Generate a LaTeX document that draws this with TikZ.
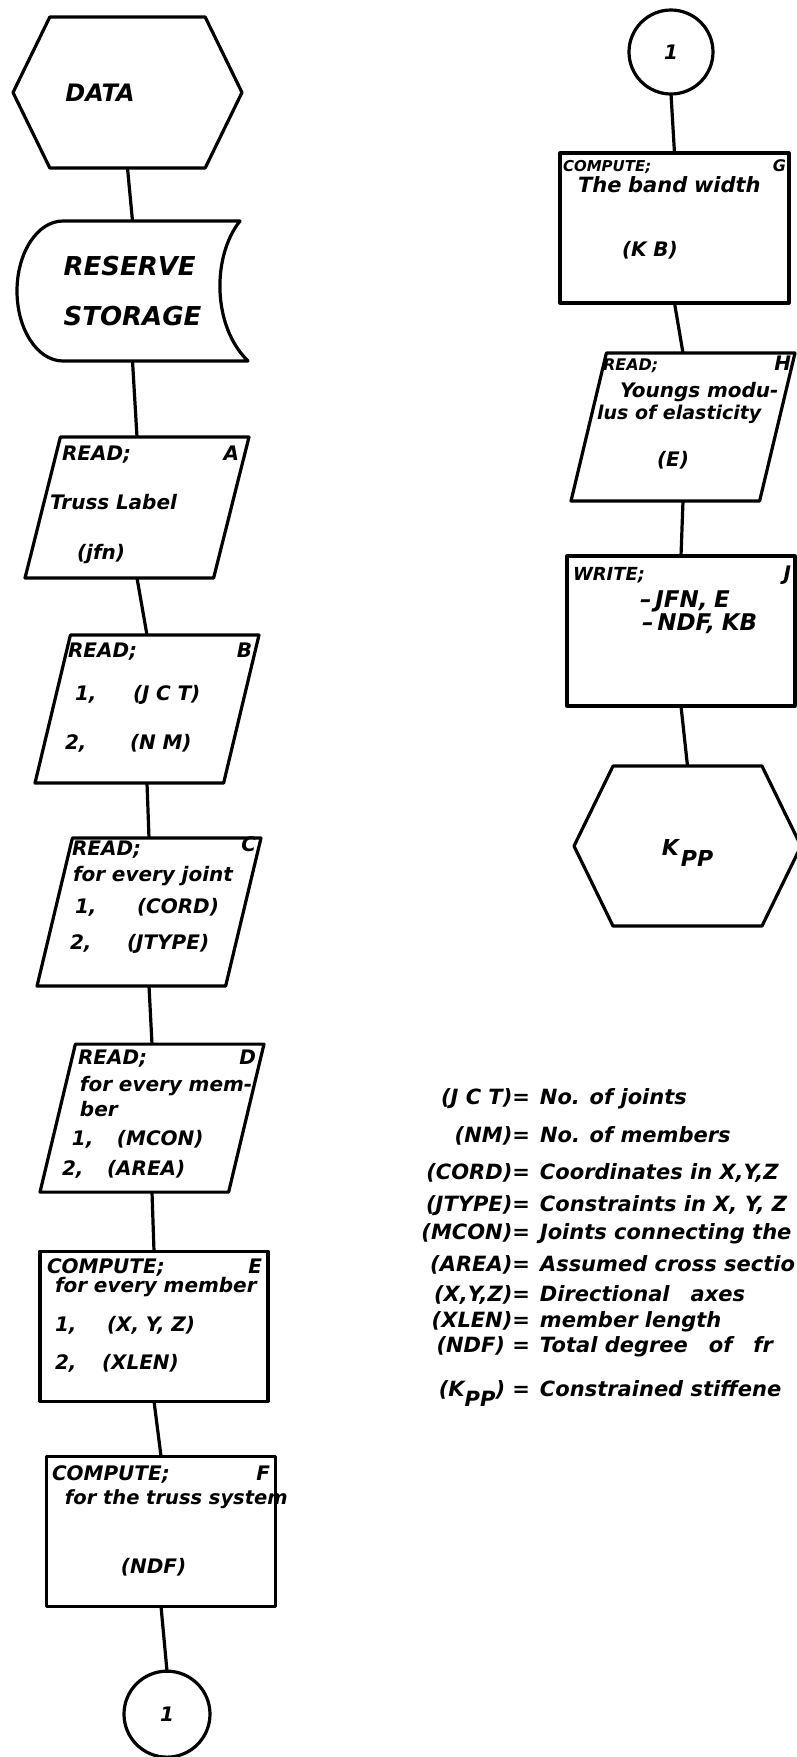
\documentclass[tikz,border=0pt]{standalone}
\usepackage{fontspec}
\setmainfont{DejaVu Sans}[ItalicFont={DejaVu Sans Oblique},BoldItalicFont={DejaVu Sans Bold Oblique}]
\usetikzlibrary{positioning,shapes.geometric,shapes.symbols}
\newcommand{\lett}[1]{\fontsize{#1}{24}\selectfont\bfseries\itshape}
\newcommand{\legkey}[1]{\makebox[118pt][r]{#1}}

\begin{document}
\begin{tikzpicture}[x=1pt, y=-1pt,
  every node/.style={font=\lett{20}, inner sep=0pt, outer sep=0pt},
  ink/.style={draw, line width=3.2pt, line join=round},
  hexbox/.style={ink, signal, signal to=west and east, signal pointer angle=128},
  iobox/.style={ink, trapezium, trapezium left angle=77, trapezium right angle=103,
                trapezium stretches=true, inner sep=5pt, minimum width=224pt, minimum height=148pt},
  procbox/.style={ink, rectangle, minimum height=150pt},
  joinbox/.style={ink, circle},
  body/.style={align=left},
  wire/.style={line width=3.2pt}
]
\useasboundingbox (0,0) rectangle (797,1757);
\clip (0,0) rectangle (797,1757);

% left column
\node[hexbox, minimum width=229pt, minimum height=151pt, font=\lett{24}] (data) at (127.5,92.5) {DATA\hspace{55pt}\mbox{}};
\node[minimum width=231pt, minimum height=140pt, align=left,
      font={\fontsize{26}{50}\selectfont\bfseries\itshape}] (store) [below=53pt of data, xshift=5pt] {RESERVE\\STORAGE};
\draw[ink] ([xshift=46pt]store.north west) -- ([xshift=-8pt]store.north east)
  .. controls ([xshift=-36pt,yshift=-35pt]store.north east) and ([xshift=-36pt,yshift=35pt]store.south east) .. (store.south east)
  -- ([xshift=46pt]store.south west)
  arc[start angle=270, end angle=90, x radius=46pt, y radius=70pt] -- cycle;

\node[iobox, minimum height=141pt] (readA) [below=76pt of store, xshift=4.5pt] {};
\node[iobox] (readB) [below=57pt of readA, xshift=10pt] {};
\node[iobox] (readC) [below=55pt of readB, xshift=2pt] {};
\node[iobox] (readD) [below=58pt of readC, xshift=3pt] {};
\node[procbox, minimum width=228pt] (members) [below=59pt of readD, xshift=2pt] {};
\node[procbox, minimum width=229pt] (system) [below=55pt of members, xshift=7pt] {};
\node[joinbox, minimum size=86pt] (onebot) [below=65pt of system, xshift=6pt] {1};

\node[body, text width=204pt] (readAtxt) at ([yshift=2.5pt]readA.center) {%
  \hspace*{27pt}READ;\hfill A\\[25pt]
  \hspace*{15pt}Truss Label\\[26pt]
  \hspace*{42pt}(jfn)};
\node[body, text width=210pt] (readBtxt) at ([yshift=11.5pt]readB.center) {%
  \hspace*{26pt}READ;\hfill B\\[19pt]
  \hspace*{33pt}\makebox[58pt][l]{1,}(J C T)\\[25pt]
  \hspace*{23pt}\makebox[65pt][l]{2,}(N M)};
\node[body, text width=214pt] (readCtxt) at ([yshift=17pt]readC.center) {%
  \hspace*{30pt}READ;\hfill\raisebox{4pt}{C}\\[2pt]
  \hspace*{31pt}\mbox{for every joint}\\[8pt]
  \hspace*{33pt}\makebox[62pt][l]{1,}(CORD)\\[12pt]
  \hspace*{28pt}\makebox[57pt][l]{2,}(JTYPE)};
\node[body, text width=208pt] (readDtxt) at ([yshift=4pt]readD.center) {%
  \hspace*{30pt}READ;\hfill D\\[3pt]
  \hspace*{32pt}\mbox{for every mem-}\\[1pt]
  \hspace*{32pt}ber\\[5pt]
  \hspace*{24pt}\makebox[45pt][l]{1,}(MCON)\\[6pt]
  \hspace*{14pt}\makebox[45pt][l]{2,}(AREA)};
\node[body, text width=216pt] (memberstxt) at ([yshift=11pt]members.center) {%
  \hspace*{1pt}COMPUTE;\hfill E\\[-5pt]
  \hspace*{9pt}\mbox{for every member}\\[15pt]
  \hspace*{9pt}\makebox[52pt][l]{1,}(X, Y, Z)\\[14pt]
  \hspace*{9pt}\makebox[47pt][l]{2,}(XLEN)};
\node[body, text width=218pt] (systemtxt) at ([yshift=10pt]system.center) {%
  COMPUTE;\hfill F\\[0pt]
  \hspace*{13pt}\mbox{\lett{19.5}for the truss system}\\[45pt]
  \hspace*{69pt}(NDF)};

% right column
\node[joinbox, minimum size=84pt] (onetop) at (671,52) {1};
\node[procbox, minimum width=229pt] (bandw) [below=59pt of onetop, xshift=3.5pt] {};
\node[iobox] (young) [below=50pt of bandw, xshift=8.5pt] {};
\node[procbox, minimum width=228pt] (write) [below=55pt of young, xshift=-2pt] {};
\node[hexbox, minimum width=227pt, minimum height=160pt, font=\lett{22}] (kpp) [below=60pt of write, xshift=6.5pt] {\rule{0pt}{30pt}K\kern2pt\raisebox{-11pt}{PP}};

\node[body, text width=223pt] (bandwtxt) at ([yshift=18.5pt]bandw.center) {%
  {\lett{15}COMPUTE;}\hfill{\lett{16}G}\\[-3pt]
  \hspace*{15pt}\mbox{\lett{21}The band width}\\[40pt]
  \hspace*{59pt}(K B)};
\node[body, text width=216pt] (youngtxt) at ([yshift=14pt]young.center) {%
  \hspace*{28pt}{\lett{16}READ;}\hfill H\\[3pt]
  \hspace*{45pt}\mbox{Youngs modu-}\\[-2pt]
  \hspace*{22pt}\mbox{\lett{19}lus of elasticity}\\[23pt]
  \hspace*{82pt}(E)};
\node[body, text width=220pt] (writetxt) at ([yshift=31.5pt]write.center) {%
  \hspace*{2pt}{\lett{18}WRITE;}\hfill J\\[3pt]
  \hspace*{69pt}\mbox{\lett{23}--\,JFN, E}\\[-1pt]
  \hspace*{71pt}\mbox{\lett{23}--\,NDF, KB}};

% connectors
\draw[wire] (data.south) -- (store.north);
\draw[wire] (store.south) -- (readA.north);
\draw[wire] (readA.south) -- (readB.north);
\draw[wire] (readB.south) -- (readC.north);
\draw[wire] (readC.south) -- (readD.north);
\draw[wire] (readD.south) -- (members.north);
\draw[wire] (members.south) -- (system.north);
\draw[wire] (system.south) -- (onebot.north);
\draw[wire] (onetop.south) -- (bandw.north);
\draw[wire] (bandw.south) -- (young.north);
\draw[wire] (young.south) -- (write.north);
\draw[wire] (write.south) -- (kpp.north);

% legend
\node[anchor=north west, font={\fontsize{21}{25}\selectfont\bfseries\itshape}] (legend) at (412,1087) {%
  \begin{tabular}{@{}l@{\hspace{10pt}}l@{}}
  \legkey{(J C T)=} & No. of joints\\[13pt]
  \legkey{(NM)=} & No. of members\\[12pt]
  \legkey{(CORD)=} & Coordinates in X,Y,Z\\[7pt]
  \legkey{(JTYPE)=} & Constraints in X, Y, Z\\[3pt]
  \legkey{(MCON)=} & Joints connecting the\\[7pt]
  \legkey{(AREA)=} & Assumed cross sectio\\[5pt]
  \legkey{(X,Y,Z)=} & Directional\quad axes\\[1pt]
  \legkey{(XLEN)=} & member length\\[0pt]
  \legkey{(NDF) =} & Total degree\quad of\quad fr\\[19pt]
  \legkey{(K\raisebox{-10pt}{PP}) =} & Constrained stiffene
  \end{tabular}};
\end{tikzpicture}
\end{document}
